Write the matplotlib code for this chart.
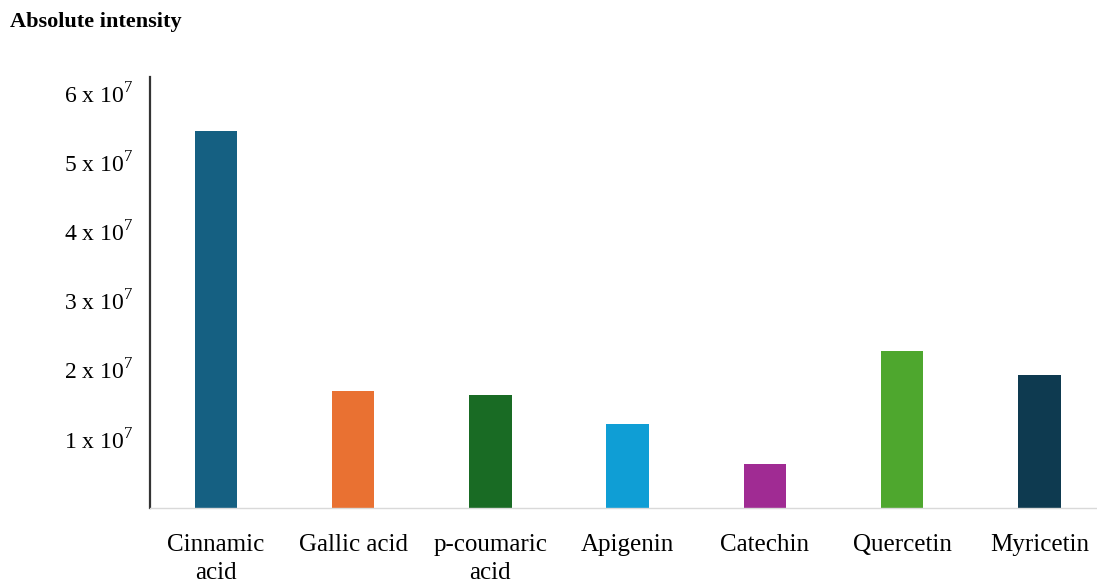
import matplotlib.pyplot as plt

plt.rcParams['font.family'] = ['Liberation Serif', 'DejaVu Serif']
plt.rcParams['mathtext.fontset'] = 'custom'
plt.rcParams['mathtext.rm'] = 'Liberation Serif'

# Phenolic compounds and their absolute intensity (x 10^7)
compounds = ['Cinnamic\nacid', 'Gallic acid', 'p-coumaric\nacid', 'Apigenin',
             'Catechin', 'Quercetin', 'Myricetin']
intensity = [5.46, 1.69, 1.63, 1.21, 0.63, 2.27, 1.92]
colors = ['#156082', '#E97132', '#196B24', '#0F9ED5', '#A02B93', '#4EA72E', '#0E3A50']
y_ticks = [1, 2, 3, 4, 5, 6]
y_labels = [f'{t} x 10$^{{7}}$' for t in y_ticks]

fig = plt.figure(figsize=(10.97, 5.82), dpi=100)
ax = fig.add_axes([0.1367, 0.1271, 0.8633, 0.741])

x = range(len(compounds))
ax.bar(x, intensity, width=0.31, color=colors)

ax.set_xlim(-0.48, 6.42)
ax.set_ylim(0, 6.24)
ax.set_xticks(list(x))
ax.set_xticklabels(compounds, fontsize=18, linespacing=1.3, va='top')
ax.set_yticks(y_ticks)
ax.set_yticklabels(y_labels, fontsize=17)
ax.tick_params(axis='both', length=0)
ax.tick_params(axis='y', pad=12)
ax.tick_params(axis='x', pad=19)

for side in ['top', 'right']:
    ax.spines[side].set_visible(False)
ax.spines['left'].set_color('#333333')
ax.spines['left'].set_linewidth(1.6)
ax.spines['bottom'].set_color('#d9d9d9')
ax.spines['bottom'].set_linewidth(1.0)

fig.text(0.009, 0.962, 'Absolute intensity', fontsize=16, fontweight='bold',
         va='center', ha='left')

fig.savefig('out.png', dpi=100)
